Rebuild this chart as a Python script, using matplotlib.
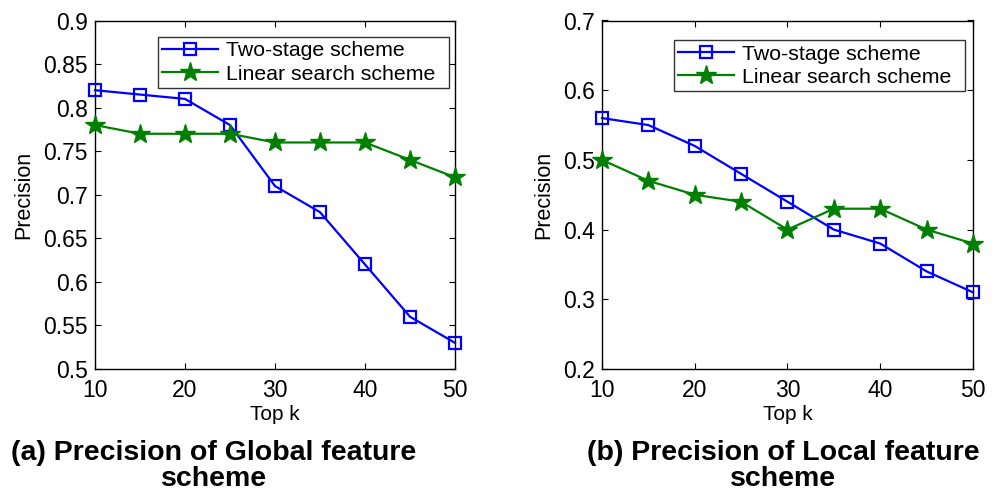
import matplotlib
matplotlib.use("Agg")
import matplotlib.pyplot as plt

plt.rcParams['font.family'] = ['Liberation Sans', 'DejaVu Sans']

top_k = [10, 15, 20, 25, 30, 35, 40, 45, 50]
global_two_stage = [0.82, 0.815, 0.81, 0.78, 0.71, 0.68, 0.62, 0.56, 0.53]
global_linear = [0.78, 0.77, 0.77, 0.77, 0.76, 0.76, 0.76, 0.74, 0.72]
local_two_stage = [0.56, 0.55, 0.52, 0.48, 0.44, 0.40, 0.38, 0.34, 0.31]
local_linear = [0.50, 0.47, 0.45, 0.44, 0.40, 0.43, 0.43, 0.40, 0.38]
x_ticks = [10, 20, 30, 40, 50]
global_yticks = [0.5, 0.55, 0.6, 0.65, 0.7, 0.75, 0.8, 0.85, 0.9]
local_yticks = [0.2, 0.3, 0.4, 0.5, 0.6, 0.7]
labels = ["Two-stage scheme", "Linear search scheme"]
titles = ["(a) Precision of Global feature\nscheme", "(b) Precision of Local feature\nscheme"]

W, H = 999, 493
fig = plt.figure(figsize=(W / 100, H / 100), dpi=100)

def make_ax(left, right, top, bottom):
    return fig.add_axes([left / W, 1 - bottom / H, (right - left) / W, (bottom - top) / H])

ax1 = make_ax(95, 455, 20.5, 369)
ax2 = make_ax(602, 973, 20.5, 369)

panels = [
    (ax1, global_two_stage, global_linear, global_yticks, (0.5, 0.9),
     [158 / W, 1 - 88 / H, (449 - 158) / W, (88 - 26) / H], 34),
    (ax2, local_two_stage, local_linear, local_yticks, (0.2, 0.7),
     [674 / W, 1 - 91 / H, (965 - 674) / W, (91 - 28) / H], 554),
]

for ax, ts, ls, yt, ylim, legbox, ylx in panels:
    ax.plot(top_k, ts, color=(0, 0, 1), lw=1.6, marker='s', ms=9,
            mfc='none', mec=(0, 0, 1), mew=1.6, label=labels[0], clip_on=False, zorder=3)
    ax.plot(top_k, ls, color=(0, 0.5, 0), lw=1.6, marker='*', ms=15,
            mfc=(0, 0.5, 0), mec=(0, 0.5, 0), label=labels[1], clip_on=False, zorder=3)
    ax.set_xlim(10, 50)
    ax.set_ylim(*ylim)
    ax.set_xticks(x_ticks)
    ax.set_yticks(yt)
    ax.set_yticklabels([('%g' % v) for v in yt])
    ax.tick_params(direction='in', top=True, right=True, length=4, width=0.8,
                   labelsize=16.5)
    ax.tick_params(axis='x', pad=7)
    ax.tick_params(axis='y', pad=5)
    for s in ax.spines.values():
        s.set_linewidth(1.0)
    ax.set_xlabel("Top k", fontsize=15, labelpad=2)
    ax.set_ylabel("Precision", fontsize=15.5)
    ax.yaxis.set_label_coords(ylx / W, 1 - 195 / H, transform=fig.transFigure)
    leg = ax.legend(loc='lower left', bbox_to_anchor=legbox, bbox_transform=fig.transFigure,
                    mode='expand', fontsize=15.3, frameon=True, fancybox=False,
                    borderaxespad=0, handlelength=2.6, handletextpad=0.4,
                    borderpad=0.2, labelspacing=0.2)
    leg.get_frame().set_edgecolor('black')
    leg.get_frame().set_linewidth(1.0)

fig.text(214 / W, 1 - 466 / H, titles[0], ha='center', va='center', multialignment='center',
         fontsize=20.5, fontweight='bold', linespacing=1.0)
fig.text(783 / W, 1 - 466 / H, titles[1], ha='center', va='center', multialignment='center',
         fontsize=20.5, fontweight='bold', linespacing=1.0)

fig.savefig("out.png", dpi=100)
